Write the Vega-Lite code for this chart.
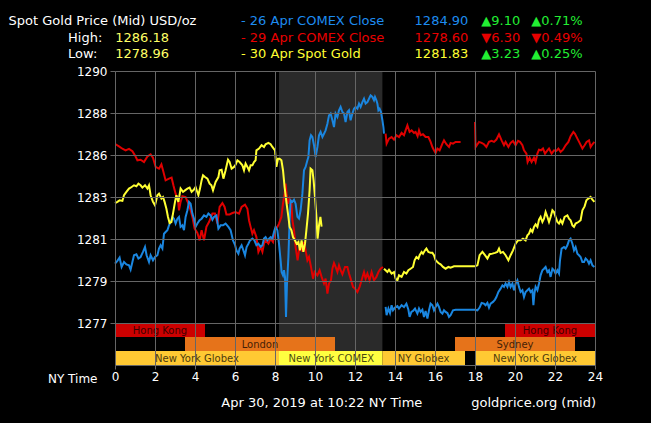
{
  "$schema": "https://vega.github.io/schema/vega-lite/v6.json",
  "width": 480,
  "height": 294,
  "autosize": "none",
  "padding": {"left": 115, "top": 71, "right": 56, "bottom": 58},
  "background": "#000000",
  "config": {
    "font": "DejaVu Sans",
    "view": {"stroke": null, "fill": "#000000"}
  },
  "datasets": {
    "prices": [
      {"s":"29 Apr","g":"29a","t":0.03,"p":1286.05},{"s":"29 Apr","g":"29a","t":0.2,"p":1285.94},{"s":"29 Apr","g":"29a","t":0.37,"p":1285.82},{"s":"29 Apr","g":"29a","t":0.53,"p":1285.74},{"s":"29 Apr","g":"29a","t":0.7,"p":1285.81},{"s":"29 Apr","g":"29a","t":0.87,"p":1285.69},{"s":"29 Apr","g":"29a","t":1.0,"p":1285.48},{"s":"29 Apr","g":"29a","t":1.12,"p":1285.23},{"s":"29 Apr","g":"29a","t":1.28,"p":1285.26},{"s":"29 Apr","g":"29a","t":1.45,"p":1285.14},{"s":"29 Apr","g":"29a","t":1.62,"p":1285.43},{"s":"29 Apr","g":"29a","t":1.78,"p":1285.53},{"s":"29 Apr","g":"29a","t":1.9,"p":1285.36},{"s":"29 Apr","g":"29a","t":2.03,"p":1284.89},{"s":"29 Apr","g":"29a","t":2.2,"p":1284.8},{"s":"29 Apr","g":"29a","t":2.32,"p":1285.02},{"s":"29 Apr","g":"29a","t":2.4,"p":1284.72},{"s":"29 Apr","g":"29a","t":2.53,"p":1284.2},{"s":"29 Apr","g":"29a","t":2.7,"p":1284.29},{"s":"29 Apr","g":"29a","t":2.83,"p":1284.34},{"s":"29 Apr","g":"29a","t":2.92,"p":1283.95},{"s":"29 Apr","g":"29a","t":3.03,"p":1283.52},{"s":"29 Apr","g":"29a","t":3.15,"p":1283.18},{"s":"29 Apr","g":"29a","t":3.2,"p":1282.67},{"s":"29 Apr","g":"29a","t":3.28,"p":1283.1},{"s":"29 Apr","g":"29a","t":3.37,"p":1283.39},{"s":"29 Apr","g":"29a","t":3.53,"p":1283.35},{"s":"29 Apr","g":"29a","t":3.67,"p":1283.01},{"s":"29 Apr","g":"29a","t":3.78,"p":1282.67},{"s":"29 Apr","g":"29a","t":3.87,"p":1282.33},{"s":"29 Apr","g":"29a","t":3.98,"p":1281.73},{"s":"29 Apr","g":"29a","t":4.12,"p":1281.51},{"s":"29 Apr","g":"29a","t":4.23,"p":1281.13},{"s":"29 Apr","g":"29a","t":4.33,"p":1281.65},{"s":"29 Apr","g":"29a","t":4.45,"p":1281.13},{"s":"29 Apr","g":"29a","t":4.57,"p":1281.82},{"s":"29 Apr","g":"29a","t":4.7,"p":1282.07},{"s":"29 Apr","g":"29a","t":4.87,"p":1282.5},{"s":"29 Apr","g":"29a","t":5.0,"p":1282.5},{"s":"29 Apr","g":"29a","t":5.12,"p":1281.99},{"s":"29 Apr","g":"29a","t":5.23,"p":1282.84},{"s":"29 Apr","g":"29a","t":5.37,"p":1283.04},{"s":"29 Apr","g":"29a","t":5.48,"p":1282.84},{"s":"29 Apr","g":"29a","t":5.57,"p":1282.46},{"s":"29 Apr","g":"29a","t":5.73,"p":1282.46},{"s":"29 Apr","g":"29a","t":5.87,"p":1282.53},{"s":"29 Apr","g":"29a","t":6.03,"p":1282.58},{"s":"29 Apr","g":"29a","t":6.2,"p":1282.5},{"s":"29 Apr","g":"29a","t":6.33,"p":1282.84},{"s":"29 Apr","g":"29a","t":6.5,"p":1282.96},{"s":"29 Apr","g":"29a","t":6.62,"p":1282.75},{"s":"29 Apr","g":"29a","t":6.7,"p":1282.16},{"s":"29 Apr","g":"29a","t":6.78,"p":1281.82},{"s":"29 Apr","g":"29a","t":6.87,"p":1281.47},{"s":"29 Apr","g":"29a","t":6.95,"p":1281.65},{"s":"29 Apr","g":"29a","t":7.07,"p":1281.3},{"s":"29 Apr","g":"29a","t":7.17,"p":1280.54},{"s":"29 Apr","g":"29a","t":7.28,"p":1280.79},{"s":"29 Apr","g":"29a","t":7.37,"p":1280.54},{"s":"29 Apr","g":"29a","t":7.45,"p":1280.96},{"s":"29 Apr","g":"29a","t":7.53,"p":1281.13},{"s":"29 Apr","g":"29a","t":7.67,"p":1280.96},{"s":"29 Apr","g":"29a","t":7.78,"p":1281.22},{"s":"29 Apr","g":"29a","t":7.9,"p":1281.05},{"s":"29 Apr","g":"29a","t":8.0,"p":1281.65},{"s":"29 Apr","g":"29a","t":8.12,"p":1281.82},{"s":"29 Apr","g":"29a","t":8.2,"p":1281.99},{"s":"29 Apr","g":"29a","t":8.32,"p":1282.33},{"s":"29 Apr","g":"29a","t":8.4,"p":1283.01},{"s":"29 Apr","g":"29a","t":8.48,"p":1283.52},{"s":"29 Apr","g":"29a","t":8.53,"p":1284.03},{"s":"29 Apr","g":"29a","t":8.58,"p":1283.52},{"s":"29 Apr","g":"29a","t":8.65,"p":1283.01},{"s":"29 Apr","g":"29a","t":8.73,"p":1283.27},{"s":"29 Apr","g":"29a","t":8.82,"p":1283.01},{"s":"29 Apr","g":"29a","t":8.87,"p":1282.16},{"s":"29 Apr","g":"29a","t":8.95,"p":1281.65},{"s":"29 Apr","g":"29a","t":9.03,"p":1280.79},{"s":"29 Apr","g":"29a","t":9.13,"p":1280.11},{"s":"29 Apr","g":"29a","t":9.2,"p":1280.62},{"s":"29 Apr","g":"29a","t":9.28,"p":1280.96},{"s":"29 Apr","g":"29a","t":9.37,"p":1280.54},{"s":"29 Apr","g":"29a","t":9.45,"p":1281.05},{"s":"29 Apr","g":"29a","t":9.53,"p":1280.62},{"s":"29 Apr","g":"29a","t":9.62,"p":1280.11},{"s":"29 Apr","g":"29a","t":9.7,"p":1280.28},{"s":"29 Apr","g":"29a","t":9.8,"p":1279.77},{"s":"29 Apr","g":"29a","t":9.9,"p":1279.17},{"s":"29 Apr","g":"29a","t":9.98,"p":1279.51},{"s":"29 Apr","g":"29a","t":10.12,"p":1279.34},{"s":"29 Apr","g":"29a","t":10.23,"p":1279.6},{"s":"29 Apr","g":"29a","t":10.33,"p":1279.26},{"s":"29 Apr","g":"29a","t":10.45,"p":1278.92},{"s":"29 Apr","g":"29a","t":10.53,"p":1279.17},{"s":"29 Apr","g":"29a","t":10.62,"p":1278.4},{"s":"29 Apr","g":"29a","t":10.7,"p":1278.92},{"s":"29 Apr","g":"29a","t":10.8,"p":1279.09},{"s":"29 Apr","g":"29a","t":10.87,"p":1279.68},{"s":"29 Apr","g":"29a","t":10.95,"p":1279.97},{"s":"29 Apr","g":"29a","t":11.03,"p":1279.77},{"s":"29 Apr","g":"29a","t":11.12,"p":1279.51},{"s":"29 Apr","g":"29a","t":11.2,"p":1279.85},{"s":"29 Apr","g":"29a","t":11.28,"p":1279.6},{"s":"29 Apr","g":"29a","t":11.37,"p":1279.39},{"s":"29 Apr","g":"29a","t":11.5,"p":1279.77},{"s":"29 Apr","g":"29a","t":11.62,"p":1279.77},{"s":"29 Apr","g":"29a","t":11.7,"p":1279.43},{"s":"29 Apr","g":"29a","t":11.78,"p":1279.17},{"s":"29 Apr","g":"29a","t":11.9,"p":1278.75},{"s":"29 Apr","g":"29a","t":12.0,"p":1278.66},{"s":"29 Apr","g":"29a","t":12.12,"p":1278.49},{"s":"29 Apr","g":"29a","t":12.23,"p":1278.75},{"s":"29 Apr","g":"29a","t":12.33,"p":1279.09},{"s":"29 Apr","g":"29a","t":12.45,"p":1279.51},{"s":"29 Apr","g":"29a","t":12.53,"p":1279.17},{"s":"29 Apr","g":"29a","t":12.62,"p":1279.43},{"s":"29 Apr","g":"29a","t":12.73,"p":1279.09},{"s":"29 Apr","g":"29a","t":12.83,"p":1279.51},{"s":"29 Apr","g":"29a","t":12.95,"p":1279.09},{"s":"29 Apr","g":"29a","t":13.07,"p":1279.26},{"s":"29 Apr","g":"29a","t":13.17,"p":1279.51},{"s":"29 Apr","g":"29a","t":13.28,"p":1279.68},{"s":"29 Apr","g":"29a","t":13.4,"p":1279.77},
      {"s":"29 Apr","g":"29b","t":13.53,"p":1286.59},{"s":"29 Apr","g":"29b","t":13.58,"p":1286.08},{"s":"29 Apr","g":"29b","t":13.7,"p":1286.34},{"s":"29 Apr","g":"29b","t":13.83,"p":1286.42},{"s":"29 Apr","g":"29b","t":13.95,"p":1286.29},{"s":"29 Apr","g":"29b","t":14.07,"p":1286.51},{"s":"29 Apr","g":"29b","t":14.2,"p":1286.42},{"s":"29 Apr","g":"29b","t":14.33,"p":1286.63},{"s":"29 Apr","g":"29b","t":14.45,"p":1286.51},{"s":"29 Apr","g":"29b","t":14.53,"p":1286.76},{"s":"29 Apr","g":"29b","t":14.62,"p":1287.02},{"s":"29 Apr","g":"29b","t":14.73,"p":1286.68},{"s":"29 Apr","g":"29b","t":14.83,"p":1286.76},{"s":"29 Apr","g":"29b","t":14.95,"p":1286.63},{"s":"29 Apr","g":"29b","t":15.03,"p":1286.68},{"s":"29 Apr","g":"29b","t":15.13,"p":1286.46},{"s":"29 Apr","g":"29b","t":15.2,"p":1286.76},{"s":"29 Apr","g":"29b","t":15.28,"p":1286.51},{"s":"29 Apr","g":"29b","t":15.4,"p":1286.56},{"s":"29 Apr","g":"29b","t":15.53,"p":1286.42},{"s":"29 Apr","g":"29b","t":15.67,"p":1286.42},{"s":"29 Apr","g":"29b","t":15.78,"p":1286.17},{"s":"29 Apr","g":"29b","t":15.87,"p":1285.91},{"s":"29 Apr","g":"29b","t":15.95,"p":1285.74},{"s":"29 Apr","g":"29b","t":16.03,"p":1285.6},{"s":"29 Apr","g":"29b","t":16.12,"p":1285.83},{"s":"29 Apr","g":"29b","t":16.23,"p":1285.74},{"s":"29 Apr","g":"29b","t":16.37,"p":1286.08},{"s":"29 Apr","g":"29b","t":16.45,"p":1286.25},{"s":"29 Apr","g":"29b","t":16.57,"p":1286.05},{"s":"29 Apr","g":"29b","t":16.7,"p":1285.91},{"s":"29 Apr","g":"29b","t":16.78,"p":1286.12},{"s":"29 Apr","g":"29b","t":16.9,"p":1286.08},{"s":"29 Apr","g":"29b","t":17.03,"p":1286.17},{"s":"29 Apr","g":"29b","t":17.17,"p":1286.17},{"s":"29 Apr","g":"29b","t":17.28,"p":1286.17},
      {"s":"29 Apr","g":"29c","t":18.0,"p":1287.19},{"s":"29 Apr","g":"29c","t":18.03,"p":1285.91},{"s":"29 Apr","g":"29c","t":18.2,"p":1286.17},{"s":"29 Apr","g":"29c","t":18.33,"p":1286.12},{"s":"29 Apr","g":"29c","t":18.45,"p":1286.05},{"s":"29 Apr","g":"29c","t":18.57,"p":1285.91},{"s":"29 Apr","g":"29c","t":18.7,"p":1286.17},{"s":"29 Apr","g":"29c","t":18.83,"p":1286.22},{"s":"29 Apr","g":"29c","t":18.95,"p":1286.17},{"s":"29 Apr","g":"29c","t":19.07,"p":1286.29},{"s":"29 Apr","g":"29c","t":19.2,"p":1286.56},{"s":"29 Apr","g":"29c","t":19.33,"p":1286.25},{"s":"29 Apr","g":"29c","t":19.45,"p":1286.0},{"s":"29 Apr","g":"29c","t":19.53,"p":1286.17},{"s":"29 Apr","g":"29c","t":19.67,"p":1285.91},{"s":"29 Apr","g":"29c","t":19.78,"p":1286.12},{"s":"29 Apr","g":"29c","t":19.9,"p":1286.22},{"s":"29 Apr","g":"29c","t":20.03,"p":1286.0},{"s":"29 Apr","g":"29c","t":20.15,"p":1286.22},{"s":"29 Apr","g":"29c","t":20.25,"p":1286.17},{"s":"29 Apr","g":"29c","t":20.37,"p":1286.0},{"s":"29 Apr","g":"29c","t":20.45,"p":1285.74},{"s":"29 Apr","g":"29c","t":20.57,"p":1285.57},{"s":"29 Apr","g":"29c","t":20.63,"p":1285.14},{"s":"29 Apr","g":"29c","t":20.73,"p":1285.36},{"s":"29 Apr","g":"29c","t":20.83,"p":1285.14},{"s":"29 Apr","g":"29c","t":20.95,"p":1285.36},{"s":"29 Apr","g":"29c","t":21.03,"p":1285.14},{"s":"29 Apr","g":"29c","t":21.12,"p":1285.57},{"s":"29 Apr","g":"29c","t":21.2,"p":1285.77},{"s":"29 Apr","g":"29c","t":21.3,"p":1285.74},{"s":"29 Apr","g":"29c","t":21.4,"p":1285.83},{"s":"29 Apr","g":"29c","t":21.5,"p":1285.57},{"s":"29 Apr","g":"29c","t":21.62,"p":1285.74},{"s":"29 Apr","g":"29c","t":21.7,"p":1285.83},{"s":"29 Apr","g":"29c","t":21.83,"p":1285.57},{"s":"29 Apr","g":"29c","t":21.95,"p":1285.74},{"s":"29 Apr","g":"29c","t":22.07,"p":1285.71},{"s":"29 Apr","g":"29c","t":22.17,"p":1285.83},{"s":"29 Apr","g":"29c","t":22.28,"p":1285.66},{"s":"29 Apr","g":"29c","t":22.4,"p":1285.77},{"s":"29 Apr","g":"29c","t":22.53,"p":1286.0},{"s":"29 Apr","g":"29c","t":22.67,"p":1286.17},{"s":"29 Apr","g":"29c","t":22.78,"p":1286.46},{"s":"29 Apr","g":"29c","t":22.92,"p":1286.68},{"s":"29 Apr","g":"29c","t":23.0,"p":1286.59},{"s":"29 Apr","g":"29c","t":23.12,"p":1286.34},{"s":"29 Apr","g":"29c","t":23.23,"p":1286.12},{"s":"29 Apr","g":"29c","t":23.37,"p":1285.83},{"s":"29 Apr","g":"29c","t":23.48,"p":1286.0},{"s":"29 Apr","g":"29c","t":23.58,"p":1286.17},{"s":"29 Apr","g":"29c","t":23.7,"p":1286.25},{"s":"29 Apr","g":"29c","t":23.78,"p":1285.91},{"s":"29 Apr","g":"29c","t":23.87,"p":1286.05},{"s":"29 Apr","g":"29c","t":23.97,"p":1286.17},
      {"s":"26 Apr","g":"26a","t":0.0,"p":1279.94},{"s":"26 Apr","g":"26a","t":0.12,"p":1280.08},{"s":"26 Apr","g":"26a","t":0.23,"p":1280.25},{"s":"26 Apr","g":"26a","t":0.33,"p":1279.77},{"s":"26 Apr","g":"26a","t":0.45,"p":1280.02},{"s":"26 Apr","g":"26a","t":0.57,"p":1279.9},{"s":"26 Apr","g":"26a","t":0.7,"p":1279.85},{"s":"26 Apr","g":"26a","t":0.78,"p":1279.63},{"s":"26 Apr","g":"26a","t":0.87,"p":1280.02},{"s":"26 Apr","g":"26a","t":0.95,"p":1280.37},{"s":"26 Apr","g":"26a","t":1.07,"p":1280.42},{"s":"26 Apr","g":"26a","t":1.17,"p":1280.2},{"s":"26 Apr","g":"26a","t":1.28,"p":1280.28},{"s":"26 Apr","g":"26a","t":1.4,"p":1280.54},{"s":"26 Apr","g":"26a","t":1.5,"p":1280.79},{"s":"26 Apr","g":"26a","t":1.58,"p":1280.37},{"s":"26 Apr","g":"26a","t":1.7,"p":1280.02},{"s":"26 Apr","g":"26a","t":1.78,"p":1280.37},{"s":"26 Apr","g":"26a","t":1.9,"p":1280.11},{"s":"26 Apr","g":"26a","t":2.0,"p":1280.28},{"s":"26 Apr","g":"26a","t":2.12,"p":1280.37},{"s":"26 Apr","g":"26a","t":2.2,"p":1280.71},{"s":"26 Apr","g":"26a","t":2.28,"p":1280.88},{"s":"26 Apr","g":"26a","t":2.37,"p":1280.71},{"s":"26 Apr","g":"26a","t":2.45,"p":1281.47},{"s":"26 Apr","g":"26a","t":2.53,"p":1281.56},{"s":"26 Apr","g":"26a","t":2.62,"p":1281.65},{"s":"26 Apr","g":"26a","t":2.7,"p":1281.9},{"s":"26 Apr","g":"26a","t":2.78,"p":1282.07},{"s":"26 Apr","g":"26a","t":2.87,"p":1282.33},{"s":"26 Apr","g":"26a","t":2.95,"p":1282.24},{"s":"26 Apr","g":"26a","t":3.03,"p":1281.99},{"s":"26 Apr","g":"26a","t":3.12,"p":1282.24},{"s":"26 Apr","g":"26a","t":3.2,"p":1282.33},{"s":"26 Apr","g":"26a","t":3.28,"p":1281.82},{"s":"26 Apr","g":"26a","t":3.37,"p":1281.9},{"s":"26 Apr","g":"26a","t":3.45,"p":1281.65},{"s":"26 Apr","g":"26a","t":3.53,"p":1282.33},{"s":"26 Apr","g":"26a","t":3.62,"p":1282.67},{"s":"26 Apr","g":"26a","t":3.7,"p":1283.1},{"s":"26 Apr","g":"26a","t":3.78,"p":1283.01},{"s":"26 Apr","g":"26a","t":3.87,"p":1282.5},{"s":"26 Apr","g":"26a","t":3.95,"p":1282.24},{"s":"26 Apr","g":"26a","t":4.03,"p":1281.82},{"s":"26 Apr","g":"26a","t":4.12,"p":1281.99},{"s":"26 Apr","g":"26a","t":4.23,"p":1282.16},{"s":"26 Apr","g":"26a","t":4.33,"p":1282.24},{"s":"26 Apr","g":"26a","t":4.45,"p":1282.41},{"s":"26 Apr","g":"26a","t":4.57,"p":1282.33},{"s":"26 Apr","g":"26a","t":4.67,"p":1282.5},{"s":"26 Apr","g":"26a","t":4.78,"p":1282.41},{"s":"26 Apr","g":"26a","t":4.87,"p":1282.19},{"s":"26 Apr","g":"26a","t":4.95,"p":1282.33},{"s":"26 Apr","g":"26a","t":5.07,"p":1282.41},{"s":"26 Apr","g":"26a","t":5.17,"p":1281.73},{"s":"26 Apr","g":"26a","t":5.28,"p":1281.9},{"s":"26 Apr","g":"26a","t":5.4,"p":1281.9},{"s":"26 Apr","g":"26a","t":5.53,"p":1281.99},{"s":"26 Apr","g":"26a","t":5.67,"p":1281.82},{"s":"26 Apr","g":"26a","t":5.78,"p":1281.65},{"s":"26 Apr","g":"26a","t":5.9,"p":1281.13},{"s":"26 Apr","g":"26a","t":6.0,"p":1280.9},{"s":"26 Apr","g":"26a","t":6.07,"p":1280.62},{"s":"26 Apr","g":"26a","t":6.17,"p":1280.45},{"s":"26 Apr","g":"26a","t":6.23,"p":1280.71},{"s":"26 Apr","g":"26a","t":6.33,"p":1280.88},{"s":"26 Apr","g":"26a","t":6.42,"p":1280.62},{"s":"26 Apr","g":"26a","t":6.5,"p":1280.37},{"s":"26 Apr","g":"26a","t":6.58,"p":1280.79},{"s":"26 Apr","g":"26a","t":6.67,"p":1280.96},{"s":"26 Apr","g":"26a","t":6.75,"p":1281.13},{"s":"26 Apr","g":"26a","t":6.87,"p":1281.22},{"s":"26 Apr","g":"26a","t":6.97,"p":1281.13},{"s":"26 Apr","g":"26a","t":7.07,"p":1280.88},{"s":"26 Apr","g":"26a","t":7.17,"p":1280.96},{"s":"26 Apr","g":"26a","t":7.28,"p":1280.79},{"s":"26 Apr","g":"26a","t":7.37,"p":1280.88},{"s":"26 Apr","g":"26a","t":7.45,"p":1281.22},{"s":"26 Apr","g":"26a","t":7.53,"p":1281.3},{"s":"26 Apr","g":"26a","t":7.62,"p":1281.13},{"s":"26 Apr","g":"26a","t":7.7,"p":1281.22},{"s":"26 Apr","g":"26a","t":7.78,"p":1281.3},{"s":"26 Apr","g":"26a","t":7.87,"p":1281.22},{"s":"26 Apr","g":"26a","t":7.95,"p":1281.56},{"s":"26 Apr","g":"26a","t":8.03,"p":1281.82},{"s":"26 Apr","g":"26a","t":8.12,"p":1281.65},{"s":"26 Apr","g":"26a","t":8.2,"p":1280.96},{"s":"26 Apr","g":"26a","t":8.28,"p":1280.11},{"s":"26 Apr","g":"26a","t":8.33,"p":1279.51},{"s":"26 Apr","g":"26a","t":8.4,"p":1279.34},{"s":"26 Apr","g":"26a","t":8.45,"p":1279.6},{"s":"26 Apr","g":"26a","t":8.5,"p":1279.26},{"s":"26 Apr","g":"26a","t":8.55,"p":1277.21},{"s":"26 Apr","g":"26a","t":8.6,"p":1278.92},{"s":"26 Apr","g":"26a","t":8.67,"p":1280.28},{"s":"26 Apr","g":"26a","t":8.73,"p":1282.16},{"s":"26 Apr","g":"26a","t":8.78,"p":1283.18},{"s":"26 Apr","g":"26a","t":8.87,"p":1283.1},{"s":"26 Apr","g":"26a","t":8.95,"p":1283.21},{"s":"26 Apr","g":"26a","t":9.03,"p":1283.01},{"s":"26 Apr","g":"26a","t":9.12,"p":1282.33},{"s":"26 Apr","g":"26a","t":9.2,"p":1282.24},{"s":"26 Apr","g":"26a","t":9.28,"p":1282.67},{"s":"26 Apr","g":"26a","t":9.37,"p":1283.52},{"s":"26 Apr","g":"26a","t":9.45,"p":1284.72},{"s":"26 Apr","g":"26a","t":9.53,"p":1284.89},{"s":"26 Apr","g":"26a","t":9.62,"p":1285.23},{"s":"26 Apr","g":"26a","t":9.67,"p":1285.4},{"s":"26 Apr","g":"26a","t":9.73,"p":1286.25},{"s":"26 Apr","g":"26a","t":9.8,"p":1286.51},{"s":"26 Apr","g":"26a","t":9.87,"p":1286.42},{"s":"26 Apr","g":"26a","t":9.95,"p":1286.0},{"s":"26 Apr","g":"26a","t":10.03,"p":1285.4},{"s":"26 Apr","g":"26a","t":10.12,"p":1285.91},{"s":"26 Apr","g":"26a","t":10.2,"p":1286.51},{"s":"26 Apr","g":"26a","t":10.28,"p":1286.68},{"s":"26 Apr","g":"26a","t":10.37,"p":1286.42},{"s":"26 Apr","g":"26a","t":10.45,"p":1286.59},{"s":"26 Apr","g":"26a","t":10.53,"p":1286.76},{"s":"26 Apr","g":"26a","t":10.62,"p":1287.1},{"s":"26 Apr","g":"26a","t":10.7,"p":1287.53},{"s":"26 Apr","g":"26a","t":10.78,"p":1287.62},{"s":"26 Apr","g":"26a","t":10.87,"p":1287.28},{"s":"26 Apr","g":"26a","t":10.95,"p":1286.93},{"s":"26 Apr","g":"26a","t":11.03,"p":1287.62},{"s":"26 Apr","g":"26a","t":11.12,"p":1287.45},{"s":"26 Apr","g":"26a","t":11.2,"p":1287.79},{"s":"26 Apr","g":"26a","t":11.28,"p":1287.96},{"s":"26 Apr","g":"26a","t":11.37,"p":1287.7},{"s":"26 Apr","g":"26a","t":11.45,"p":1287.62},{"s":"26 Apr","g":"26a","t":11.53,"p":1287.19},{"s":"26 Apr","g":"26a","t":11.62,"p":1287.7},{"s":"26 Apr","g":"26a","t":11.7,"p":1287.79},{"s":"26 Apr","g":"26a","t":11.78,"p":1287.28},{"s":"26 Apr","g":"26a","t":11.87,"p":1287.62},{"s":"26 Apr","g":"26a","t":11.95,"p":1287.87},{"s":"26 Apr","g":"26a","t":12.03,"p":1287.96},{"s":"26 Apr","g":"26a","t":12.12,"p":1287.87},{"s":"26 Apr","g":"26a","t":12.2,"p":1288.13},{"s":"26 Apr","g":"26a","t":12.28,"p":1287.96},{"s":"26 Apr","g":"26a","t":12.37,"p":1288.21},{"s":"26 Apr","g":"26a","t":12.45,"p":1288.38},{"s":"26 Apr","g":"26a","t":12.53,"p":1288.13},{"s":"26 Apr","g":"26a","t":12.62,"p":1288.21},{"s":"26 Apr","g":"26a","t":12.7,"p":1288.38},{"s":"26 Apr","g":"26a","t":12.78,"p":1288.55},{"s":"26 Apr","g":"26a","t":12.87,"p":1288.47},{"s":"26 Apr","g":"26a","t":12.95,"p":1288.3},{"s":"26 Apr","g":"26a","t":13.0,"p":1288.47},{"s":"26 Apr","g":"26a","t":13.07,"p":1288.3},{"s":"26 Apr","g":"26a","t":13.12,"p":1288.13},{"s":"26 Apr","g":"26a","t":13.17,"p":1287.79},{"s":"26 Apr","g":"26a","t":13.23,"p":1287.87},{"s":"26 Apr","g":"26a","t":13.3,"p":1287.7},{"s":"26 Apr","g":"26a","t":13.37,"p":1287.28},{"s":"26 Apr","g":"26a","t":13.42,"p":1286.93},{"s":"26 Apr","g":"26a","t":13.45,"p":1286.59},
      {"s":"26 Apr","g":"26b","t":13.53,"p":1277.72},{"s":"26 Apr","g":"26b","t":13.58,"p":1277.3},{"s":"26 Apr","g":"26b","t":13.67,"p":1277.64},{"s":"26 Apr","g":"26b","t":13.75,"p":1277.41},{"s":"26 Apr","g":"26b","t":13.83,"p":1277.81},{"s":"26 Apr","g":"26b","t":13.9,"p":1277.55},{"s":"26 Apr","g":"26b","t":14.0,"p":1277.69},{"s":"26 Apr","g":"26b","t":14.12,"p":1277.76},{"s":"26 Apr","g":"26b","t":14.2,"p":1277.64},{"s":"26 Apr","g":"26b","t":14.33,"p":1277.81},{"s":"26 Apr","g":"26b","t":14.45,"p":1277.72},{"s":"26 Apr","g":"26b","t":14.57,"p":1277.89},{"s":"26 Apr","g":"26b","t":14.67,"p":1277.58},{"s":"26 Apr","g":"26b","t":14.73,"p":1277.21},{"s":"26 Apr","g":"26b","t":14.82,"p":1277.47},{"s":"26 Apr","g":"26b","t":14.9,"p":1277.52},{"s":"26 Apr","g":"26b","t":15.0,"p":1277.64},{"s":"26 Apr","g":"26b","t":15.12,"p":1277.38},{"s":"26 Apr","g":"26b","t":15.2,"p":1277.64},{"s":"26 Apr","g":"26b","t":15.28,"p":1277.47},{"s":"26 Apr","g":"26b","t":15.37,"p":1277.58},{"s":"26 Apr","g":"26b","t":15.45,"p":1277.21},{"s":"26 Apr","g":"26b","t":15.53,"p":1277.52},{"s":"26 Apr","g":"26b","t":15.62,"p":1277.13},{"s":"26 Apr","g":"26b","t":15.7,"p":1277.55},{"s":"26 Apr","g":"26b","t":15.78,"p":1277.89},{"s":"26 Apr","g":"26b","t":15.87,"p":1277.81},{"s":"26 Apr","g":"26b","t":15.95,"p":1277.55},{"s":"26 Apr","g":"26b","t":16.03,"p":1277.72},{"s":"26 Apr","g":"26b","t":16.12,"p":1277.89},{"s":"26 Apr","g":"26b","t":16.2,"p":1277.72},{"s":"26 Apr","g":"26b","t":16.28,"p":1277.47},{"s":"26 Apr","g":"26b","t":16.37,"p":1277.38},{"s":"26 Apr","g":"26b","t":16.45,"p":1277.55},{"s":"26 Apr","g":"26b","t":16.53,"p":1277.47},{"s":"26 Apr","g":"26b","t":16.62,"p":1277.41},{"s":"26 Apr","g":"26b","t":16.7,"p":1277.21},{"s":"26 Apr","g":"26b","t":16.78,"p":1277.3},{"s":"26 Apr","g":"26b","t":16.9,"p":1277.55},{"s":"26 Apr","g":"26b","t":17.03,"p":1277.58},{"s":"26 Apr","g":"26b","t":18.0,"p":1277.58},{"s":"26 Apr","g":"26b","t":18.12,"p":1277.55},{"s":"26 Apr","g":"26b","t":18.23,"p":1277.69},{"s":"26 Apr","g":"26b","t":18.33,"p":1277.93},{"s":"26 Apr","g":"26b","t":18.45,"p":1277.89},{"s":"26 Apr","g":"26b","t":18.53,"p":1277.81},{"s":"26 Apr","g":"26b","t":18.62,"p":1277.93},{"s":"26 Apr","g":"26b","t":18.7,"p":1277.69},{"s":"26 Apr","g":"26b","t":18.78,"p":1277.89},{"s":"26 Apr","g":"26b","t":18.9,"p":1277.98},{"s":"26 Apr","g":"26b","t":19.0,"p":1278.1},{"s":"26 Apr","g":"26b","t":19.07,"p":1278.23},{"s":"26 Apr","g":"26b","t":19.17,"p":1278.49},{"s":"26 Apr","g":"26b","t":19.28,"p":1278.66},{"s":"26 Apr","g":"26b","t":19.37,"p":1278.83},{"s":"26 Apr","g":"26b","t":19.45,"p":1278.75},{"s":"26 Apr","g":"26b","t":19.53,"p":1278.92},{"s":"26 Apr","g":"26b","t":19.62,"p":1278.75},{"s":"26 Apr","g":"26b","t":19.7,"p":1279.0},{"s":"26 Apr","g":"26b","t":19.78,"p":1278.75},{"s":"26 Apr","g":"26b","t":19.87,"p":1278.92},{"s":"26 Apr","g":"26b","t":19.95,"p":1278.58},{"s":"26 Apr","g":"26b","t":20.03,"p":1278.92},{"s":"26 Apr","g":"26b","t":20.12,"p":1279.09},{"s":"26 Apr","g":"26b","t":20.2,"p":1278.75},{"s":"26 Apr","g":"26b","t":20.28,"p":1278.49},{"s":"26 Apr","g":"26b","t":20.37,"p":1278.58},{"s":"26 Apr","g":"26b","t":20.45,"p":1278.23},{"s":"26 Apr","g":"26b","t":20.53,"p":1278.49},{"s":"26 Apr","g":"26b","t":20.62,"p":1278.58},{"s":"26 Apr","g":"26b","t":20.7,"p":1278.66},{"s":"26 Apr","g":"26b","t":20.78,"p":1278.49},{"s":"26 Apr","g":"26b","t":20.87,"p":1278.58},{"s":"26 Apr","g":"26b","t":20.92,"p":1277.81},{"s":"26 Apr","g":"26b","t":20.97,"p":1278.4},{"s":"26 Apr","g":"26b","t":21.03,"p":1278.75},{"s":"26 Apr","g":"26b","t":21.12,"p":1278.58},{"s":"26 Apr","g":"26b","t":21.2,"p":1278.92},{"s":"26 Apr","g":"26b","t":21.28,"p":1279.34},{"s":"26 Apr","g":"26b","t":21.37,"p":1279.6},{"s":"26 Apr","g":"26b","t":21.45,"p":1279.68},{"s":"26 Apr","g":"26b","t":21.53,"p":1279.77},{"s":"26 Apr","g":"26b","t":21.62,"p":1279.51},{"s":"26 Apr","g":"26b","t":21.7,"p":1279.6},{"s":"26 Apr","g":"26b","t":21.78,"p":1279.26},{"s":"26 Apr","g":"26b","t":21.87,"p":1279.68},{"s":"26 Apr","g":"26b","t":21.95,"p":1279.6},{"s":"26 Apr","g":"26b","t":22.03,"p":1279.43},{"s":"26 Apr","g":"26b","t":22.12,"p":1279.6},{"s":"26 Apr","g":"26b","t":22.2,"p":1279.43},{"s":"26 Apr","g":"26b","t":22.25,"p":1280.11},{"s":"26 Apr","g":"26b","t":22.33,"p":1280.71},{"s":"26 Apr","g":"26b","t":22.45,"p":1280.79},{"s":"26 Apr","g":"26b","t":22.53,"p":1280.71},{"s":"26 Apr","g":"26b","t":22.62,"p":1280.88},{"s":"26 Apr","g":"26b","t":22.7,"p":1281.13},{"s":"26 Apr","g":"26b","t":22.78,"p":1281.22},{"s":"26 Apr","g":"26b","t":22.87,"p":1280.96},{"s":"26 Apr","g":"26b","t":22.95,"p":1280.62},{"s":"26 Apr","g":"26b","t":23.03,"p":1280.79},{"s":"26 Apr","g":"26b","t":23.12,"p":1280.45},{"s":"26 Apr","g":"26b","t":23.2,"p":1280.37},{"s":"26 Apr","g":"26b","t":23.28,"p":1280.28},{"s":"26 Apr","g":"26b","t":23.37,"p":1280.02},{"s":"26 Apr","g":"26b","t":23.45,"p":1280.02},{"s":"26 Apr","g":"26b","t":23.53,"p":1280.2},{"s":"26 Apr","g":"26b","t":23.62,"p":1280.11},{"s":"26 Apr","g":"26b","t":23.7,"p":1279.94},{"s":"26 Apr","g":"26b","t":23.78,"p":1280.11},{"s":"26 Apr","g":"26b","t":23.87,"p":1279.85},{"s":"26 Apr","g":"26b","t":23.97,"p":1279.77},
      {"s":"30 Apr","g":"30a","t":0.0,"p":1283.04},{"s":"30 Apr","g":"30a","t":0.12,"p":1283.1},{"s":"30 Apr","g":"30a","t":0.23,"p":1283.18},{"s":"30 Apr","g":"30a","t":0.37,"p":1283.15},{"s":"30 Apr","g":"30a","t":0.45,"p":1283.44},{"s":"30 Apr","g":"30a","t":0.57,"p":1283.61},{"s":"30 Apr","g":"30a","t":0.7,"p":1283.78},{"s":"30 Apr","g":"30a","t":0.83,"p":1283.86},{"s":"30 Apr","g":"30a","t":0.95,"p":1283.95},{"s":"30 Apr","g":"30a","t":1.07,"p":1283.9},{"s":"30 Apr","g":"30a","t":1.17,"p":1284.03},{"s":"30 Apr","g":"30a","t":1.28,"p":1283.95},{"s":"30 Apr","g":"30a","t":1.37,"p":1283.83},{"s":"30 Apr","g":"30a","t":1.5,"p":1283.95},{"s":"30 Apr","g":"30a","t":1.62,"p":1283.78},{"s":"30 Apr","g":"30a","t":1.7,"p":1283.95},{"s":"30 Apr","g":"30a","t":1.78,"p":1283.44},{"s":"30 Apr","g":"30a","t":1.9,"p":1283.1},{"s":"30 Apr","g":"30a","t":2.0,"p":1282.92},{"s":"30 Apr","g":"30a","t":2.12,"p":1283.44},{"s":"30 Apr","g":"30a","t":2.2,"p":1283.52},{"s":"30 Apr","g":"30a","t":2.32,"p":1283.27},{"s":"30 Apr","g":"30a","t":2.4,"p":1283.35},{"s":"30 Apr","g":"30a","t":2.48,"p":1283.1},{"s":"30 Apr","g":"30a","t":2.57,"p":1282.75},{"s":"30 Apr","g":"30a","t":2.65,"p":1282.33},{"s":"30 Apr","g":"30a","t":2.73,"p":1282.02},{"s":"30 Apr","g":"30a","t":2.82,"p":1282.07},{"s":"30 Apr","g":"30a","t":2.9,"p":1282.5},{"s":"30 Apr","g":"30a","t":3.0,"p":1283.1},{"s":"30 Apr","g":"30a","t":3.07,"p":1283.44},{"s":"30 Apr","g":"30a","t":3.17,"p":1283.1},{"s":"30 Apr","g":"30a","t":3.28,"p":1283.78},{"s":"30 Apr","g":"30a","t":3.4,"p":1283.61},{"s":"30 Apr","g":"30a","t":3.5,"p":1283.69},{"s":"30 Apr","g":"30a","t":3.62,"p":1283.78},{"s":"30 Apr","g":"30a","t":3.73,"p":1283.83},{"s":"30 Apr","g":"30a","t":3.83,"p":1283.61},{"s":"30 Apr","g":"30a","t":3.95,"p":1283.73},{"s":"30 Apr","g":"30a","t":4.03,"p":1283.86},{"s":"30 Apr","g":"30a","t":4.17,"p":1283.44},{"s":"30 Apr","g":"30a","t":4.25,"p":1283.78},{"s":"30 Apr","g":"30a","t":4.33,"p":1284.2},{"s":"30 Apr","g":"30a","t":4.4,"p":1284.46},{"s":"30 Apr","g":"30a","t":4.5,"p":1284.37},{"s":"30 Apr","g":"30a","t":4.62,"p":1284.29},{"s":"30 Apr","g":"30a","t":4.73,"p":1284.03},{"s":"30 Apr","g":"30a","t":4.82,"p":1283.95},{"s":"30 Apr","g":"30a","t":4.9,"p":1283.69},{"s":"30 Apr","g":"30a","t":5.03,"p":1284.12},{"s":"30 Apr","g":"30a","t":5.17,"p":1284.37},{"s":"30 Apr","g":"30a","t":5.23,"p":1284.72},{"s":"30 Apr","g":"30a","t":5.33,"p":1284.75},{"s":"30 Apr","g":"30a","t":5.42,"p":1284.29},{"s":"30 Apr","g":"30a","t":5.53,"p":1284.72},{"s":"30 Apr","g":"30a","t":5.65,"p":1285.26},{"s":"30 Apr","g":"30a","t":5.73,"p":1285.14},{"s":"30 Apr","g":"30a","t":5.83,"p":1284.8},{"s":"30 Apr","g":"30a","t":5.95,"p":1284.89},{"s":"30 Apr","g":"30a","t":6.03,"p":1285.0},{"s":"30 Apr","g":"30a","t":6.12,"p":1285.23},{"s":"30 Apr","g":"30a","t":6.23,"p":1285.14},{"s":"30 Apr","g":"30a","t":6.37,"p":1284.97},{"s":"30 Apr","g":"30a","t":6.45,"p":1284.72},{"s":"30 Apr","g":"30a","t":6.53,"p":1285.06},{"s":"30 Apr","g":"30a","t":6.62,"p":1284.89},{"s":"30 Apr","g":"30a","t":6.7,"p":1284.72},{"s":"30 Apr","g":"30a","t":6.78,"p":1284.97},{"s":"30 Apr","g":"30a","t":6.87,"p":1284.97},{"s":"30 Apr","g":"30a","t":6.95,"p":1285.14},{"s":"30 Apr","g":"30a","t":7.03,"p":1285.23},{"s":"30 Apr","g":"30a","t":7.07,"p":1285.74},{"s":"30 Apr","g":"30a","t":7.2,"p":1285.83},{"s":"30 Apr","g":"30a","t":7.33,"p":1286.0},{"s":"30 Apr","g":"30a","t":7.45,"p":1285.91},{"s":"30 Apr","g":"30a","t":7.53,"p":1286.05},{"s":"30 Apr","g":"30a","t":7.67,"p":1286.12},{"s":"30 Apr","g":"30a","t":7.78,"p":1286.05},{"s":"30 Apr","g":"30a","t":7.87,"p":1285.91},{"s":"30 Apr","g":"30a","t":8.0,"p":1285.74},{"s":"30 Apr","g":"30a","t":8.07,"p":1284.89},{"s":"30 Apr","g":"30a","t":8.15,"p":1285.31},{"s":"30 Apr","g":"30a","t":8.23,"p":1285.31},{"s":"30 Apr","g":"30a","t":8.32,"p":1285.23},{"s":"30 Apr","g":"30a","t":8.4,"p":1284.72},{"s":"30 Apr","g":"30a","t":8.48,"p":1283.86},{"s":"30 Apr","g":"30a","t":8.58,"p":1283.01},{"s":"30 Apr","g":"30a","t":8.67,"p":1282.33},{"s":"30 Apr","g":"30a","t":8.73,"p":1281.82},{"s":"30 Apr","g":"30a","t":8.82,"p":1281.65},{"s":"30 Apr","g":"30a","t":8.9,"p":1281.3},{"s":"30 Apr","g":"30a","t":9.0,"p":1281.13},{"s":"30 Apr","g":"30a","t":9.08,"p":1280.96},{"s":"30 Apr","g":"30a","t":9.17,"p":1281.05},{"s":"30 Apr","g":"30a","t":9.25,"p":1280.62},{"s":"30 Apr","g":"30a","t":9.33,"p":1281.13},{"s":"30 Apr","g":"30a","t":9.42,"p":1280.54},{"s":"30 Apr","g":"30a","t":9.5,"p":1280.96},{"s":"30 Apr","g":"30a","t":9.57,"p":1281.65},{"s":"30 Apr","g":"30a","t":9.65,"p":1282.5},{"s":"30 Apr","g":"30a","t":9.73,"p":1283.69},{"s":"30 Apr","g":"30a","t":9.78,"p":1284.8},{"s":"30 Apr","g":"30a","t":9.87,"p":1284.72},{"s":"30 Apr","g":"30a","t":9.93,"p":1284.2},{"s":"30 Apr","g":"30a","t":10.0,"p":1283.35},{"s":"30 Apr","g":"30a","t":10.07,"p":1282.33},{"s":"30 Apr","g":"30a","t":10.13,"p":1281.22},{"s":"30 Apr","g":"30a","t":10.2,"p":1281.9},{"s":"30 Apr","g":"30a","t":10.27,"p":1282.33},{"s":"30 Apr","g":"30a","t":10.33,"p":1281.83},
      {"s":"30 Apr","g":"30b","t":13.45,"p":1279.68},{"s":"30 Apr","g":"30b","t":13.53,"p":1279.6},{"s":"30 Apr","g":"30b","t":13.62,"p":1279.51},{"s":"30 Apr","g":"30b","t":13.7,"p":1279.63},{"s":"30 Apr","g":"30b","t":13.83,"p":1279.43},{"s":"30 Apr","g":"30b","t":13.95,"p":1279.51},{"s":"30 Apr","g":"30b","t":14.03,"p":1279.17},{"s":"30 Apr","g":"30b","t":14.12,"p":1279.09},{"s":"30 Apr","g":"30b","t":14.2,"p":1279.34},{"s":"30 Apr","g":"30b","t":14.33,"p":1279.26},{"s":"30 Apr","g":"30b","t":14.45,"p":1279.51},{"s":"30 Apr","g":"30b","t":14.57,"p":1279.43},{"s":"30 Apr","g":"30b","t":14.67,"p":1279.6},{"s":"30 Apr","g":"30b","t":14.78,"p":1279.68},{"s":"30 Apr","g":"30b","t":14.9,"p":1279.77},{"s":"30 Apr","g":"30b","t":14.98,"p":1280.11},{"s":"30 Apr","g":"30b","t":15.07,"p":1280.28},{"s":"30 Apr","g":"30b","t":15.17,"p":1280.2},{"s":"30 Apr","g":"30b","t":15.23,"p":1280.37},{"s":"30 Apr","g":"30b","t":15.33,"p":1280.54},{"s":"30 Apr","g":"30b","t":15.4,"p":1280.45},{"s":"30 Apr","g":"30b","t":15.5,"p":1280.62},{"s":"30 Apr","g":"30b","t":15.57,"p":1280.71},{"s":"30 Apr","g":"30b","t":15.67,"p":1280.54},{"s":"30 Apr","g":"30b","t":15.78,"p":1280.49},{"s":"30 Apr","g":"30b","t":15.87,"p":1280.49},{"s":"30 Apr","g":"30b","t":15.95,"p":1280.37},{"s":"30 Apr","g":"30b","t":16.03,"p":1280.11},{"s":"30 Apr","g":"30b","t":16.17,"p":1279.97},{"s":"30 Apr","g":"30b","t":16.28,"p":1279.9},{"s":"30 Apr","g":"30b","t":16.4,"p":1279.77},{"s":"30 Apr","g":"30b","t":16.53,"p":1279.68},{"s":"30 Apr","g":"30b","t":16.67,"p":1279.77},{"s":"30 Apr","g":"30b","t":16.78,"p":1279.73},{"s":"30 Apr","g":"30b","t":16.95,"p":1279.8},{"s":"30 Apr","g":"30b","t":18.0,"p":1279.8},{"s":"30 Apr","g":"30b","t":18.12,"p":1279.85},{"s":"30 Apr","g":"30b","t":18.23,"p":1280.37},{"s":"30 Apr","g":"30b","t":18.37,"p":1280.54},{"s":"30 Apr","g":"30b","t":18.5,"p":1280.37},{"s":"30 Apr","g":"30b","t":18.62,"p":1280.2},{"s":"30 Apr","g":"30b","t":18.73,"p":1280.42},{"s":"30 Apr","g":"30b","t":18.87,"p":1280.45},{"s":"30 Apr","g":"30b","t":19.0,"p":1280.49},{"s":"30 Apr","g":"30b","t":19.12,"p":1280.54},{"s":"30 Apr","g":"30b","t":19.2,"p":1280.71},{"s":"30 Apr","g":"30b","t":19.28,"p":1280.49},{"s":"30 Apr","g":"30b","t":19.4,"p":1280.54},{"s":"30 Apr","g":"30b","t":19.53,"p":1280.37},{"s":"30 Apr","g":"30b","t":19.67,"p":1280.11},{"s":"30 Apr","g":"30b","t":19.78,"p":1280.37},{"s":"30 Apr","g":"30b","t":19.9,"p":1280.62},{"s":"30 Apr","g":"30b","t":20.03,"p":1280.96},{"s":"30 Apr","g":"30b","t":20.15,"p":1281.13},{"s":"30 Apr","g":"30b","t":20.28,"p":1281.13},{"s":"30 Apr","g":"30b","t":20.4,"p":1281.22},{"s":"30 Apr","g":"30b","t":20.53,"p":1281.13},{"s":"30 Apr","g":"30b","t":20.62,"p":1281.39},{"s":"30 Apr","g":"30b","t":20.7,"p":1281.47},{"s":"30 Apr","g":"30b","t":20.78,"p":1281.68},{"s":"30 Apr","g":"30b","t":20.87,"p":1281.56},{"s":"30 Apr","g":"30b","t":20.95,"p":1281.82},{"s":"30 Apr","g":"30b","t":21.03,"p":1281.95},{"s":"30 Apr","g":"30b","t":21.12,"p":1281.82},{"s":"30 Apr","g":"30b","t":21.2,"p":1282.19},{"s":"30 Apr","g":"30b","t":21.28,"p":1282.33},{"s":"30 Apr","g":"30b","t":21.37,"p":1282.07},{"s":"30 Apr","g":"30b","t":21.45,"p":1282.24},{"s":"30 Apr","g":"30b","t":21.53,"p":1282.58},{"s":"30 Apr","g":"30b","t":21.62,"p":1282.33},{"s":"30 Apr","g":"30b","t":21.7,"p":1282.07},{"s":"30 Apr","g":"30b","t":21.78,"p":1282.33},{"s":"30 Apr","g":"30b","t":21.87,"p":1282.67},{"s":"30 Apr","g":"30b","t":21.95,"p":1282.58},{"s":"30 Apr","g":"30b","t":22.03,"p":1282.33},{"s":"30 Apr","g":"30b","t":22.12,"p":1282.07},{"s":"30 Apr","g":"30b","t":22.2,"p":1281.99},{"s":"30 Apr","g":"30b","t":22.28,"p":1282.16},{"s":"30 Apr","g":"30b","t":22.37,"p":1281.99},{"s":"30 Apr","g":"30b","t":22.48,"p":1282.33},{"s":"30 Apr","g":"30b","t":22.62,"p":1282.41},{"s":"30 Apr","g":"30b","t":22.7,"p":1282.24},{"s":"30 Apr","g":"30b","t":22.78,"p":1282.16},{"s":"30 Apr","g":"30b","t":22.87,"p":1281.9},{"s":"30 Apr","g":"30b","t":22.95,"p":1281.82},{"s":"30 Apr","g":"30b","t":23.03,"p":1281.99},{"s":"30 Apr","g":"30b","t":23.17,"p":1282.07},{"s":"30 Apr","g":"30b","t":23.28,"p":1282.16},{"s":"30 Apr","g":"30b","t":23.37,"p":1282.67},{"s":"30 Apr","g":"30b","t":23.48,"p":1282.87},{"s":"30 Apr","g":"30b","t":23.57,"p":1283.18},{"s":"30 Apr","g":"30b","t":23.67,"p":1283.27},{"s":"30 Apr","g":"30b","t":23.78,"p":1283.35},{"s":"30 Apr","g":"30b","t":23.87,"p":1283.21},{"s":"30 Apr","g":"30b","t":23.97,"p":1283.1}
    ],
    "sessions": [
      {"session":"Hong Kong","lane":"asia","start":0,"end":4.5,"mid":2.25},
      {"session":"Hong Kong","lane":"asia","start":19.5,"end":24,"mid":21.75},
      {"session":"London","lane":"europe","start":3.5,"end":11,"mid":7.25},
      {"session":"Sydney","lane":"europe","start":17,"end":23,"mid":20},
      {"session":"New York Globex","lane":"americas","start":0,"end":8.2,"mid":4.1},
      {"session":"New York COMEX","lane":"americas","start":8.2,"end":13.37,"mid":10.82},
      {"session":"NY Globex","lane":"americas","start":13.37,"end":17.5,"mid":15.43},
      {"session":"New York Globex","lane":"americas","start":18,"end":24,"mid":21}
    ],
    "header": [
      {"line":1,"col":0,"label":"Spot Gold Price (Mid) USD/oz","tone":"plain"},
      {"line":1,"col":4,"label":"- 26 Apr COMEX Close","tone":"26 Apr"},
      {"line":1,"col":5,"label":"1284.90","tone":"26 Apr"},
      {"line":1,"col":7,"label":"▲9.10","tone":"up"},
      {"line":1,"col":8,"label":"▲0.71%","tone":"up"},
      {"line":2,"col":1,"label":"High:","tone":"plain"},
      {"line":2,"col":2,"label":"1286.18","tone":"stat"},
      {"line":2,"col":4,"label":"- 29 Apr COMEX Close","tone":"29 Apr"},
      {"line":2,"col":5,"label":"1278.60","tone":"29 Apr"},
      {"line":2,"col":7,"label":"▼6.30","tone":"down"},
      {"line":2,"col":8,"label":"▼0.49%","tone":"down"},
      {"line":3,"col":1,"label":"Low:","tone":"plain"},
      {"line":3,"col":2,"label":"1278.96","tone":"stat"},
      {"line":3,"col":4,"label":"- 30 Apr Spot Gold","tone":"30 Apr"},
      {"line":3,"col":5,"label":"1281.83","tone":"30 Apr"},
      {"line":3,"col":7,"label":"▲3.23","tone":"up"},
      {"line":3,"col":8,"label":"▲0.25%","tone":"up"},
      {"line":4,"col":3,"label":"Apr 30, 2019 at 10:22 NY Time","tone":"plain"},
      {"line":4,"col":6,"label":"goldprice.org (mid)","tone":"plain"}
    ],
    "comex": [{"start": 8.2, "end": 13.37}]
  },
  "layer": [
    {
      "layer": [
        {
          "data": {"name": "comex"},
          "mark": {"type": "rect", "color": "#2a2a2a"},
          "encoding": {
            "x": {"field": "start", "type": "quantitative", "title": "NY Time", "scale": {"domain": [0, 24], "nice": false}},
            "x2": {"field": "end"}
          }
        },
        {
          "data": {"name": "prices"},
          "mark": {"type": "line", "strokeWidth": 2},
          "encoding": {
            "x": {
              "field": "t", "type": "quantitative", "title": "NY Time",
              "scale": {"domain": [0, 24], "nice": false},
              "axis": {
                "values": [0, 2, 4, 6, 8, 10, 12, 14, 16, 18, 20, 22, 24],
                "tickCount": 25,
                "grid": true, "gridColor": "#666666", "gridOpacity": 1,
                "domainColor": "#666666", "tickColor": "#666666", "tickSize": 4,
                "labelColor": "#ffffff", "labelFontSize": 12, "labelPadding": 2,
                "labelFont": "DejaVu Sans", "labelFlush": false, "labelOverlap": false,
                "titleColor": "#ffffff", "titleFontSize": 12, "titleFontWeight": "normal",
                "titleFont": "DejaVu Sans",
                "titleX": -18, "titleY": 13, "titleAlign": "right", "titleBaseline": "middle", "titleAnchor": null,
                "zindex": 1
              }
            },
            "y": {
              "field": "p", "type": "quantitative", "title": null,
              "scale": {"domain": [1274.75, 1289.8], "nice": false, "zero": false},
              "axis": {
                "values": [1276.9, 1279.05, 1281.2, 1283.35, 1285.5, 1287.65, 1289.8],
                "tickCount": 10,
                "labelExpr": "format(round(datum.value), 'd')",
                "grid": true, "gridColor": "#666666", "gridOpacity": 1,
                "domain": false, "tickColor": "#666666", "tickSize": 5,
                "labelColor": "#ffffff", "labelFontSize": 12, "labelPadding": 3,
                "labelFont": "DejaVu Sans", "labelFlush": false, "labelOverlap": false,
                "zindex": 1
              }
            },
            "color": {
              "field": "s", "type": "nominal", "legend": null,
              "scale": {"domain": ["26 Apr", "29 Apr", "30 Apr"], "range": ["#1a86e0", "#e00000", "#ffff33"]}
            },
            "detail": {"field": "g"}
          }
        }
      ]
    },
    {
      "data": {"name": "sessions"},
      "encoding": {
        "y": {
          "field": "lane", "type": "nominal", "axis": null,
          "scale": {"domain": ["asia", "europe", "americas"], "range": [252, 294], "paddingInner": 0, "paddingOuter": 0}
        }
      },
      "layer": [
        {
          "mark": {"type": "rect"},
          "encoding": {
            "x": {"field": "start", "type": "quantitative", "axis": null, "scale": {"domain": [0, 24], "nice": false}},
            "x2": {"field": "end"},
            "color": {
              "field": "session", "type": "nominal", "legend": null,
              "scale": {
                "domain": ["Hong Kong", "London", "Sydney", "New York Globex", "New York COMEX", "NY Globex"],
                "range": ["#cc0000", "#e6731a", "#e6731a", "#ffc933", "#ffff40", "#ffc933"]
              }
            }
          }
        },
        {
          "mark": {"type": "text", "fontSize": 10, "font": "DejaVu Sans", "color": "#000000", "opacity": 0.72, "align": "center", "baseline": "middle", "dy": 1},
          "encoding": {
            "x": {"field": "mid", "type": "quantitative", "axis": null, "scale": {"domain": [0, 24], "nice": false}},
            "text": {"field": "session"}
          }
        }
      ],
      "resolve": {"scale": {"color": "independent"}}
    },
    {
      "data": {"name": "header"},
      "mark": {"type": "text", "align": "left", "baseline": "alphabetic", "fontSize": 13, "font": "DejaVu Sans"},
      "encoding": {
        "x": {
          "field": "col", "type": "quantitative", "axis": null,
          "scale": {"domain": [0, 1, 2, 3, 4, 5, 6, 7, 8], "range": [-106.4, -47, 0.3, 106.3, 126, 299.6, 356.3, 366.3, 416.3]}
        },
        "y": {
          "field": "line", "type": "quantitative", "axis": null,
          "scale": {"domain": [1, 2, 3, 4], "range": [-46, -29.5, -13, 336]}
        },
        "text": {"field": "label"},
        "color": {
          "field": "tone", "type": "nominal", "legend": null,
          "scale": {
            "domain": ["plain", "stat", "26 Apr", "29 Apr", "30 Apr", "up", "down"],
            "range": ["#ffffff", "#ffff66", "#1e8cf0", "#e80000", "#ffff33", "#22ee33", "#e80000"]
          }
        }
      }
    }
  ],
  "resolve": {"scale": {"x": "independent", "y": "independent", "color": "independent"}}
}
